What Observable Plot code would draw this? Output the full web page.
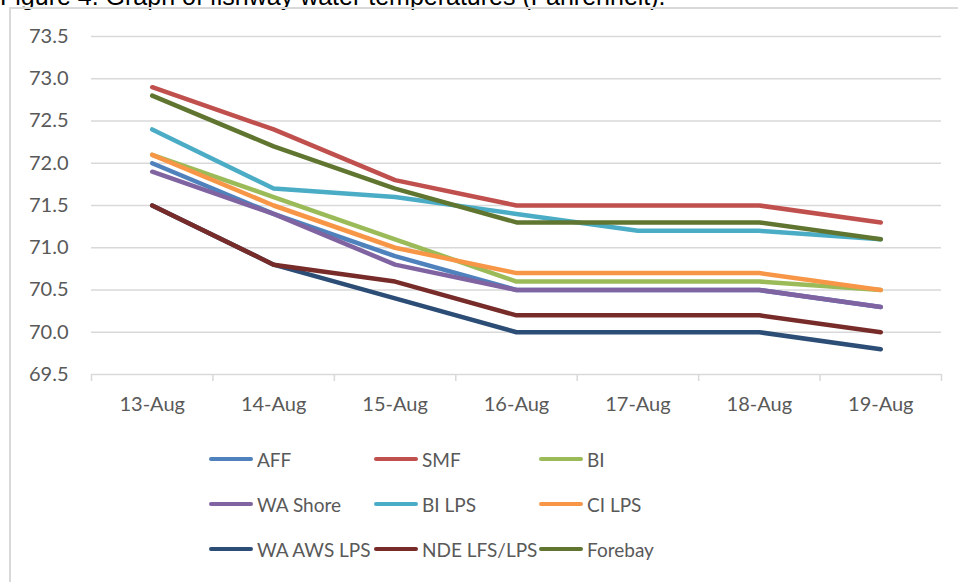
<!DOCTYPE html>
<html>
<head>
<meta charset="utf-8">
<script src="https://cdn.jsdelivr.net/npm/d3@7"></script>
<script src="https://cdn.jsdelivr.net/npm/@observablehq/plot@0.6"></script>
<style>
  html, body { margin: 0; padding: 0; background: #fff; overflow: hidden; width: 958px; height: 582px; }
  #title { position: absolute; left: 0; top: -18px; font-family: "Liberation Sans", Arial, sans-serif; font-size: 25px; color: #000; white-space: nowrap; }
  #frame { position: absolute; left: 9px; top: 7px; width: 1000px; height: 700px; border: 2px solid #d9d9d9; box-sizing: border-box; }
  #chart { position: absolute; left: 0; top: 0; }
  #legend { position: absolute; left: 0; top: 0; font-family: Lato, "Open Sans", sans-serif; font-size: 19px; color: #595959; }
  .item { position: absolute; display: flex; align-items: center; height: 26px; white-space: nowrap; }
  .swatch { width: 44px; height: 4.5px; border-radius: 2.25px; margin-right: 4px; }
</style>
</head>
<body>
<div id="title">Figure 4. Graph of fishway water temperatures (Fahrenheit).</div>
<div id="frame"></div>
<div id="chart"></div>
<div id="legend"></div>
<script>
const dates = ["13-Aug", "14-Aug", "15-Aug", "16-Aug", "17-Aug", "18-Aug", "19-Aug"];
const seriesNames = ["AFF", "SMF", "BI", "WA Shore", "BI LPS", "CI LPS", "WA AWS LPS", "NDE LFS/LPS", "Forebay"];
const colors = ["#4F81BD", "#C0504D", "#9BBB59", "#8064A2", "#4BACC6", "#F79646", "#2C4D75", "#772C2A", "#5F7530"];

const AFF       = [72.0, 71.4, 70.9, 70.5, 70.5, 70.5, 70.3];
const SMF       = [72.9, 72.4, 71.8, 71.5, 71.5, 71.5, 71.3];
const BI        = [72.1, 71.6, 71.1, 70.6, 70.6, 70.6, 70.5];
const WA_Shore  = [71.9, 71.4, 70.8, 70.5, 70.5, 70.5, 70.3];
const BI_LPS    = [72.4, 71.7, 71.6, 71.4, 71.2, 71.2, 71.1];
const CI_LPS    = [72.1, 71.5, 71.0, 70.7, 70.7, 70.7, 70.5];
const WA_AWS_LPS= [71.5, 70.8, 70.4, 70.0, 70.0, 70.0, 69.8];
const NDE_LFS   = [71.5, 70.8, 70.6, 70.2, 70.2, 70.2, 70.0];
const Forebay   = [72.8, 72.2, 71.7, 71.3, 71.3, 71.3, 71.1];

const yTicks = [69.5, 70.0, 70.5, 71.0, 71.5, 72.0, 72.5, 73.0, 73.5];

const seriesValues = [AFF, SMF, BI, WA_Shore, BI_LPS, CI_LPS, WA_AWS_LPS, NDE_LFS, Forebay];
const rows = [];
seriesNames.forEach((name, s) => {
  seriesValues[s].forEach((v, i) => rows.push({series: name, date: dates[i], idx: i, value: v}));
});
const boundaries = d3.range(dates.length + 1).map(i => i - 0.5);

const plot = Plot.plot({
  width: 958,
  height: 420,
  marginLeft: 91,
  marginRight: 17,
  marginTop: 36,
  marginBottom: 46,
  style: {fontFamily: "Lato, 'Open Sans', sans-serif", fontSize: "20px", color: "#595959", background: "transparent"},
  x: {type: "linear", domain: [-0.5, dates.length - 0.5], label: null},
  y: {domain: [69.5, 73.5], label: null},
  color: {domain: seriesNames, range: colors},
  marks: [
    Plot.gridY(yTicks.filter(t => t > 69.5), {stroke: "#d9d9d9", strokeOpacity: 1, strokeWidth: 1.5}),
    Plot.ruleY([69.5], {stroke: "#d9d9d9", strokeWidth: 1.5}),
    Plot.axisY(yTicks, {tickSize: 0, tickPadding: 23, tickFormat: d => d.toFixed(1), fontSize: 20, fill: "#595959", label: null}),
    Plot.axisX(boundaries, {tickSize: 7, tickFormat: () => "", stroke: "#d9d9d9", strokeWidth: 1.5, label: null}),
    Plot.axisX(d3.range(dates.length), {tickSize: 0, tickPadding: 22, tickFormat: i => dates[i], fontSize: 20, fill: "#595959", label: null}),
    Plot.line(rows, {x: "idx", y: "value", z: "series", stroke: "series", strokeWidth: 4.5, strokeLinecap: "round", strokeLinejoin: "round"})
  ]
});
document.getElementById("chart").appendChild(plot);

// legend
const legend = document.getElementById("legend");
const colX = [209, 374, 539];
const rowY = [459, 504, 549];
seriesNames.forEach((name, i) => {
  const item = document.createElement("div");
  item.className = "item";
  item.style.left = colX[i % 3] + "px";
  item.style.top = (rowY[Math.floor(i / 3)] - 13) + "px";
  const sw = document.createElement("div");
  sw.className = "swatch";
  sw.style.background = colors[i];
  const tx = document.createElement("span");
  tx.textContent = name;
  item.appendChild(sw);
  item.appendChild(tx);
  legend.appendChild(item);
});
</script>
</body>
</html>
